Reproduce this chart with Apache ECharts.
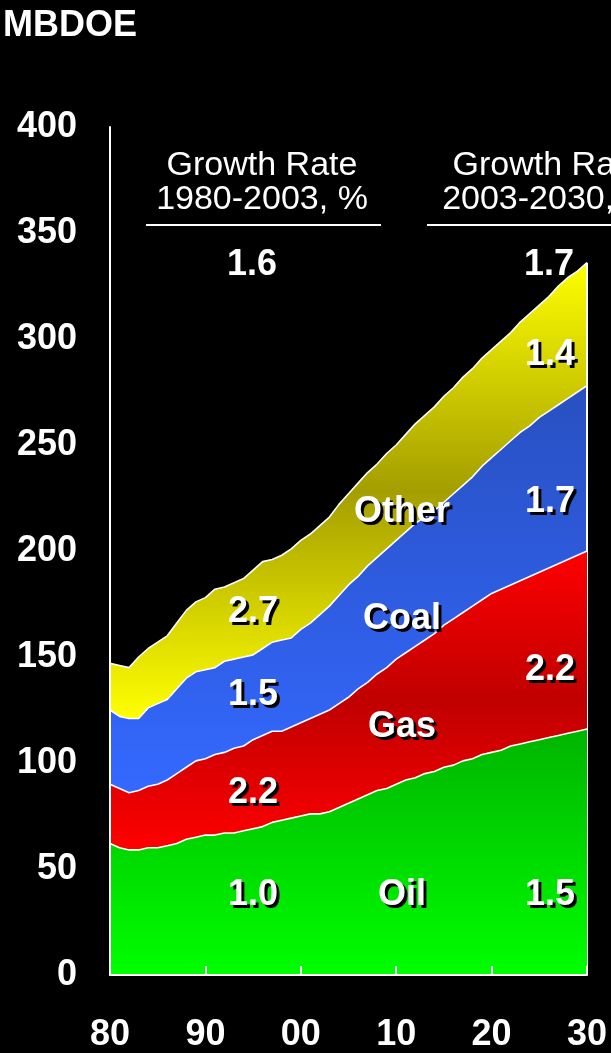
<!DOCTYPE html>
<html>
<head>
<meta charset="utf-8">
<script src="https://cdn.jsdelivr.net/npm/echarts@6/dist/echarts.min.js"></script>
<style>
html,body{margin:0;padding:0;background:#000;}
#chart{width:611px;height:1053px;}
</style>
</head>
<body>
<div id="chart"></div>
<script>
var years = [];
for (var y = 1980; y <= 2030; y++) years.push(String(y));

var oil = [62,60,59,59,60,60,61,62,64,65,
           66,66,67,67,68,69,70,72,73,74,
           75,76,76,77,79,81,83,85,87,88,
           90,92,93,95,96,98,99,101,102,104,
           105,106,108,109,110,111,112,113,114,115,116];
var gas = [28,28,27,28,29,30,31,33,34,36,
           36,38,38,40,40,42,43,43,42,43,
           44,45,47,48,49,50,52,53,55,57,
           59,60,62,63,65,67,69,70,72,73,
           75,76,76,77,78,79,80,81,82,83,84];
var coal = [35,34,35,34,37,38,38,40,42,42,
            42,41,43,42,42,40,41,42,43,42,
            44,45,47,49,51,53,53,55,55,56,
            56,57,58,58,58,58,59,60,61,63,
            64,66,68,70,71,73,74,75,76,77,78];
var other = [22,24,24,29,28,29,30,31,32,33,
             34,37,35,36,37,40,41,39,40,42,
             42,42,42,42,43,43,44,44,44,45,
             45,46,47,48,49,50,50,51,51,51,
             51,51,51,52,53,53,54,56,57,57,58];

var seriesNames = ['Oil','Gas','Coal','Other'];
var xTickLabels = {'1980':'80','1990':'90','2000':'00','2010':'10','2020':'20','2030':'30'};

function grad(stops){
  return new echarts.graphic.LinearGradient(0,0,0,1, stops.map(function(s){return {offset:s[0], color:s[1]};}));
}

var lastIdx = years.length - 1;
var total2030 = oil[lastIdx] + gas[lastIdx] + coal[lastIdx] + other[lastIdx];

var FONT = '"Liberation Sans", Arial, sans-serif';

var chart = echarts.init(document.getElementById('chart'), null, {renderer:'canvas'});

function areaSeries(name, arr, fill, z){
  return {
    name: name, type: 'line', stack: 'total', data: arr,
    symbol: 'none', smooth: false, z: z,
    lineStyle: {color: '#ffffff', width: 1.6},
    areaStyle: {color: fill, opacity: 1},
    emphasis: {disabled: true}
  };
}

function boldLabel(t, x, y){
  var st = {font: 'bold 36px ' + FONT, align: 'center', verticalAlign: 'middle'};
  return [
    {type: 'text', x: x + 3, y: y + 3, z: 100, silent: true,
     style: Object.assign({text: t, fill: '#000000'}, st)},
    {type: 'text', x: x, y: y, z: 101, silent: true,
     style: Object.assign({text: t, fill: '#ffffff'}, st)}
  ];
}
function plainText(t, x, y, size, bold){
  return {
    type: 'text', x: x, y: y, z: 100, silent: true,
    style: {
      text: t, fill: '#ffffff',
      font: (bold ? 'bold ' : '') + size + 'px ' + FONT,
      align: 'center', verticalAlign: 'middle'
    }
  };
}

var series = [
  areaSeries(seriesNames[0], oil, grad([[0,'#00b400'],[1,'#00ff00']]), 6),
  areaSeries(seriesNames[1], gas, grad([[0,'#ff0000'],[0.5,'#c00000'],[1,'#ff0000']]), 5),
  areaSeries(seriesNames[2], coal, grad([[0,'#2850c0'],[1,'#3468ff']]), 4),
  areaSeries(seriesNames[3], other, grad([[0,'#ffff00'],[0.5,'#a49e00'],[1,'#ffff00']]), 3)
];
series[3].markLine = {
  silent: true, symbol: ['none','none'], label: {show: false},
  lineStyle: {color: '#ffffff', width: 2, type: 'solid'},
  data: [[{coord: [years[lastIdx], 0]}, {coord: [years[lastIdx], total2030]}]]
};

var graphics = [
  plainText('MBDOE', 70, 26, 36, true),
  plainText('Growth Rate', 262, 166, 34, false),
  plainText('1980-2003, %', 262, 200, 34, false),
  {type: 'line', z: 100, shape: {x1: 146, y1: 225, x2: 381, y2: 225}, style: {stroke: '#ffffff', lineWidth: 2}},
  plainText('1.6', 252, 265, 36, true),
  plainText('Growth Rate', 548, 166, 34, false),
  plainText('2003-2030, %', 548, 200, 34, false),
  {type: 'line', z: 100, shape: {x1: 427, y1: 225, x2: 670, y2: 225}, style: {stroke: '#ffffff', lineWidth: 2}},
  plainText('1.7', 549, 265, 36, true)
];
[
  ['1.4', 550, 355], ['1.7', 550, 502], ['2.2', 550, 670], ['1.5', 550, 895],
  ['Other', 402, 512], ['Coal', 402, 619], ['Gas', 402, 727], ['Oil', 402, 895],
  ['2.7', 253, 612], ['1.5', 253, 695], ['2.2', 253, 793], ['1.0', 253, 895]
].forEach(function(l){ graphics = graphics.concat(boldLabel(l[0], l[1], l[2])); });

var option = {
  backgroundColor: '#000000',
  animation: false,
  grid: {left: 110, right: 24, top: 127, bottom: 76, containLabel: false},
  xAxis: {
    type: 'category', data: years, boundaryGap: false, z: 20,
    axisLine: {show: true, lineStyle: {color: '#ffffff', width: 2}},
    axisTick: {show: true, inside: true, length: 9, interval: function(i){ return i % 10 === 0; },
               lineStyle: {color: '#ffffff', width: 2}},
    splitLine: {show: false},
    axisLabel: {
      color: '#ffffff', fontSize: 36, fontWeight: 'bold', fontFamily: FONT, margin: 42,
      interval: function(i){ return i % 10 === 0; },
      formatter: function(v){ return xTickLabels[v] || ''; }
    }
  },
  yAxis: {
    type: 'value', min: 0, max: 400, interval: 50, z: 20,
    axisLine: {show: true, lineStyle: {color: '#ffffff', width: 2}},
    axisTick: {show: false},
    splitLine: {show: false},
    axisLabel: {color: '#ffffff', fontSize: 36, fontWeight: 'bold', fontFamily: FONT, margin: 33}
  },
  series: series,
  graphic: graphics
};
chart.setOption(option);
</script>
</body>
</html>
